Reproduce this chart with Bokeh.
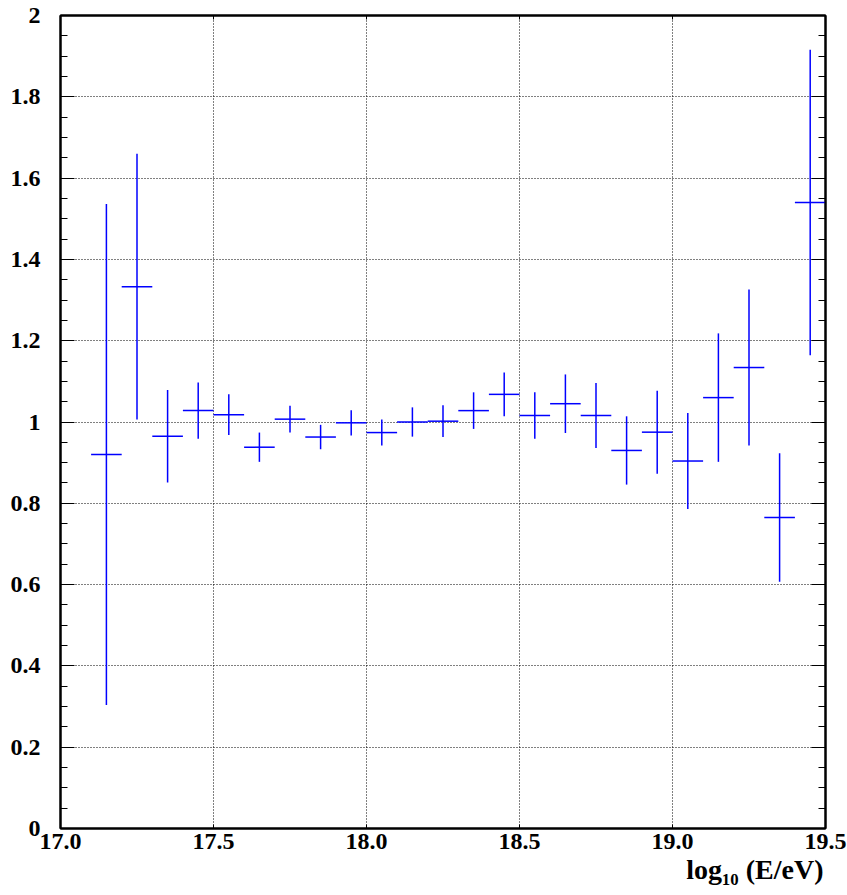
import numpy as np
from bokeh.plotting import figure
from bokeh.models import (ColumnDataSource, Range1d, FixedTicker, LinearAxis,
                          CustomJSTickFormatter, Title)
from bokeh.embed import file_html
from bokeh.resources import INLINE

# ---- data ----
log_e = [17.15, 17.25, 17.35, 17.45, 17.55, 17.65, 17.75, 17.85, 17.95, 18.05,
         18.15, 18.25, 18.35, 18.45, 18.55, 18.65, 18.75, 18.85, 18.95, 19.05,
         19.15, 19.25, 19.35, 19.45]
ratio = [0.920, 1.333, 0.965, 1.028, 1.018, 0.938, 1.007, 0.963, 0.998, 0.974,
         1.000, 1.002, 1.028, 1.068, 1.016, 1.045, 1.016, 0.930, 0.975, 0.904,
         1.060, 1.134, 0.765, 1.540]
ratio_err = [0.616, 0.327, 0.114, 0.069, 0.050, 0.036, 0.033, 0.030, 0.031, 0.032,
             0.036, 0.039, 0.045, 0.054, 0.057, 0.072, 0.080, 0.084, 0.102, 0.118,
             0.158, 0.192, 0.158, 0.376]
bin_width = 0.1

x_ticks = [17.0, 17.5, 18.0, 18.5, 19.0, 19.5]
y_ticks = [0, 0.2, 0.4, 0.6, 0.8, 1, 1.2, 1.4, 1.6, 1.8, 2]
x_title = "log\u2081\u2080 (E/eV)"

# ---- build ----
xs = np.array(log_e)
ys = np.array(ratio)
es = np.array(ratio_err)
src = ColumnDataSource(dict(
    x=xs, y=ys, ylo=ys - es, yhi=ys + es,
    xlo=xs - bin_width / 2, xhi=xs + bin_width / 2,
))

FONT = "Liberation Serif"

p = figure(width=847, height=895, output_backend="svg", toolbar_location=None,
           x_range=Range1d(17.0, 19.5), y_range=Range1d(0, 2),
           min_border_left=60, min_border_right=22, min_border_top=15,
           min_border_bottom=67, x_axis_location=None, y_axis_location=None)
p.background_fill_color = "white"
p.border_fill_color = "white"
p.outline_line_color = "black"
p.outline_line_width = 2

y_minor = [float(v) for v in np.round(np.arange(0, 2.0001, 0.05), 3)]
xt = FixedTicker(ticks=x_ticks, minor_ticks=[])
yt = FixedTicker(ticks=y_ticks, minor_ticks=y_minor)
fmt_x = CustomJSTickFormatter(code="return tick.toFixed(1);")
fmt_y = CustomJSTickFormatter(code="return String(Math.round(tick*10)/10);")
fmt_none = CustomJSTickFormatter(code="return '';")


def style_axis(ax, show_labels, is_y, font=FONT):
    ax.axis_line_color = "black"
    ax.axis_line_width = 2
    ax.major_tick_out = 0
    ax.minor_tick_out = 0
    ax.major_tick_line_color = "black"
    ax.minor_tick_line_color = "black"
    if is_y:
        ax.major_tick_in = 14
        ax.minor_tick_in = 7
    else:
        ax.major_tick_in = 4
        ax.minor_tick_in = 0
    if show_labels:
        ax.formatter = fmt_y if is_y else fmt_x
        ax.major_label_text_font = font
        ax.major_label_text_font_style = "bold"
        ax.major_label_text_font_size = "24px"
        ax.major_label_text_color = "black"
        ax.major_label_standoff = 20 if is_y else 5
    else:
        ax.formatter = fmt_none
        ax.major_label_text_font_size = "1px"
        ax.major_label_standoff = 0


bottom = LinearAxis(ticker=xt)
style_axis(bottom, True, False)
top = LinearAxis(ticker=xt)
style_axis(top, False, False)
left = LinearAxis(ticker=yt)
style_axis(left, True, True)
right = LinearAxis(ticker=yt)
style_axis(right, False, True)
p.add_layout(bottom, "below")
p.add_layout(top, "above")
p.add_layout(left, "left")
p.add_layout(right, "right")

p.xgrid.ticker = xt
p.ygrid.ticker = FixedTicker(ticks=y_ticks)
for g in (p.xgrid, p.ygrid):
    g.grid_line_color = "black"
    g.grid_line_dash = "1 2"
    g.grid_line_width = 1

p.segment(x0="x", y0="ylo", x1="x", y1="yhi", source=src,
          line_color="#0000ff", line_width=1.5)
p.segment(x0="xlo", y0="y", x1="xhi", y1="y", source=src,
          line_color="#0000ff", line_width=1.5)

title = Title(text=x_title, align="right", offset=2, standoff=0,
              text_font=FONT, text_font_style="bold", text_font_size="28px",
              text_color="black")
p.add_layout(title, "below")

open("out.html", "w").write(file_html(p, INLINE))
